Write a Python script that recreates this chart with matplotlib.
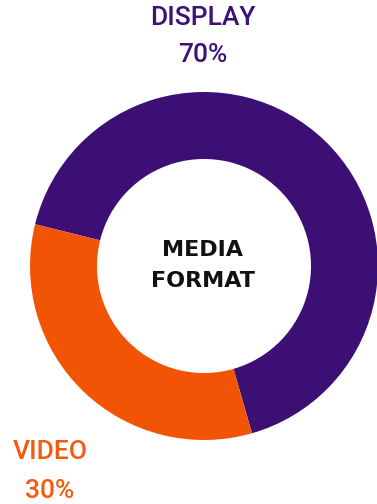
import matplotlib.pyplot as plt

# slice shares as drawn in the reference (the wedge is about 1/3 although the label reads 30%)
categories = ["DISPLAY", "VIDEO"]
shares = [66.7, 33.3]
pct_labels = ["70%", "30%"]
colors = ["#3C0F74", "#F25406"]
center_title = "MEDIA\nFORMAT"

W, H = 377, 504
fig = plt.figure(figsize=(W / 100, H / 100), dpi=100)
ax = fig.add_axes([0, 0, 1, 1])

# pixel-like coordinates, y going up
cx, cy, R = 204, H - 266, 174
ax.pie(shares, colors=colors, startangle=-74, counterclock=True,
       center=(cx, cy), radius=R,
       wedgeprops=dict(width=R * 0.385, linewidth=0))
ax.set_xlim(0, W)
ax.set_ylim(0, H)
ax.set_aspect("equal")
ax.axis("off")

font = "Roboto"

# outside labels
ax.text(203, H - 18, categories[0], ha="center", va="center",
        fontsize=19, fontweight="medium", color="#3B1278", family=font)
ax.text(203, H - 55, pct_labels[0], ha="center", va="center",
        fontsize=19, fontweight="medium", color="#3B1278", family=font)
ax.text(50, H - 452, categories[1], ha="center", va="center",
        fontsize=19, fontweight="medium", color="#F45A10", family=font)
ax.text(50, H - 491, pct_labels[1], ha="center", va="center",
        fontsize=19, fontweight="medium", color="#F45A10", family=font)

# centre title
for i, line in enumerate(center_title.split("\n")):
    ax.text(203, H - (250 + 31 * i), line, ha="center", va="center",
            fontsize=16, fontweight="bold", color="#111111", family="DejaVu Sans")

fig.savefig("out.png", dpi=100)
